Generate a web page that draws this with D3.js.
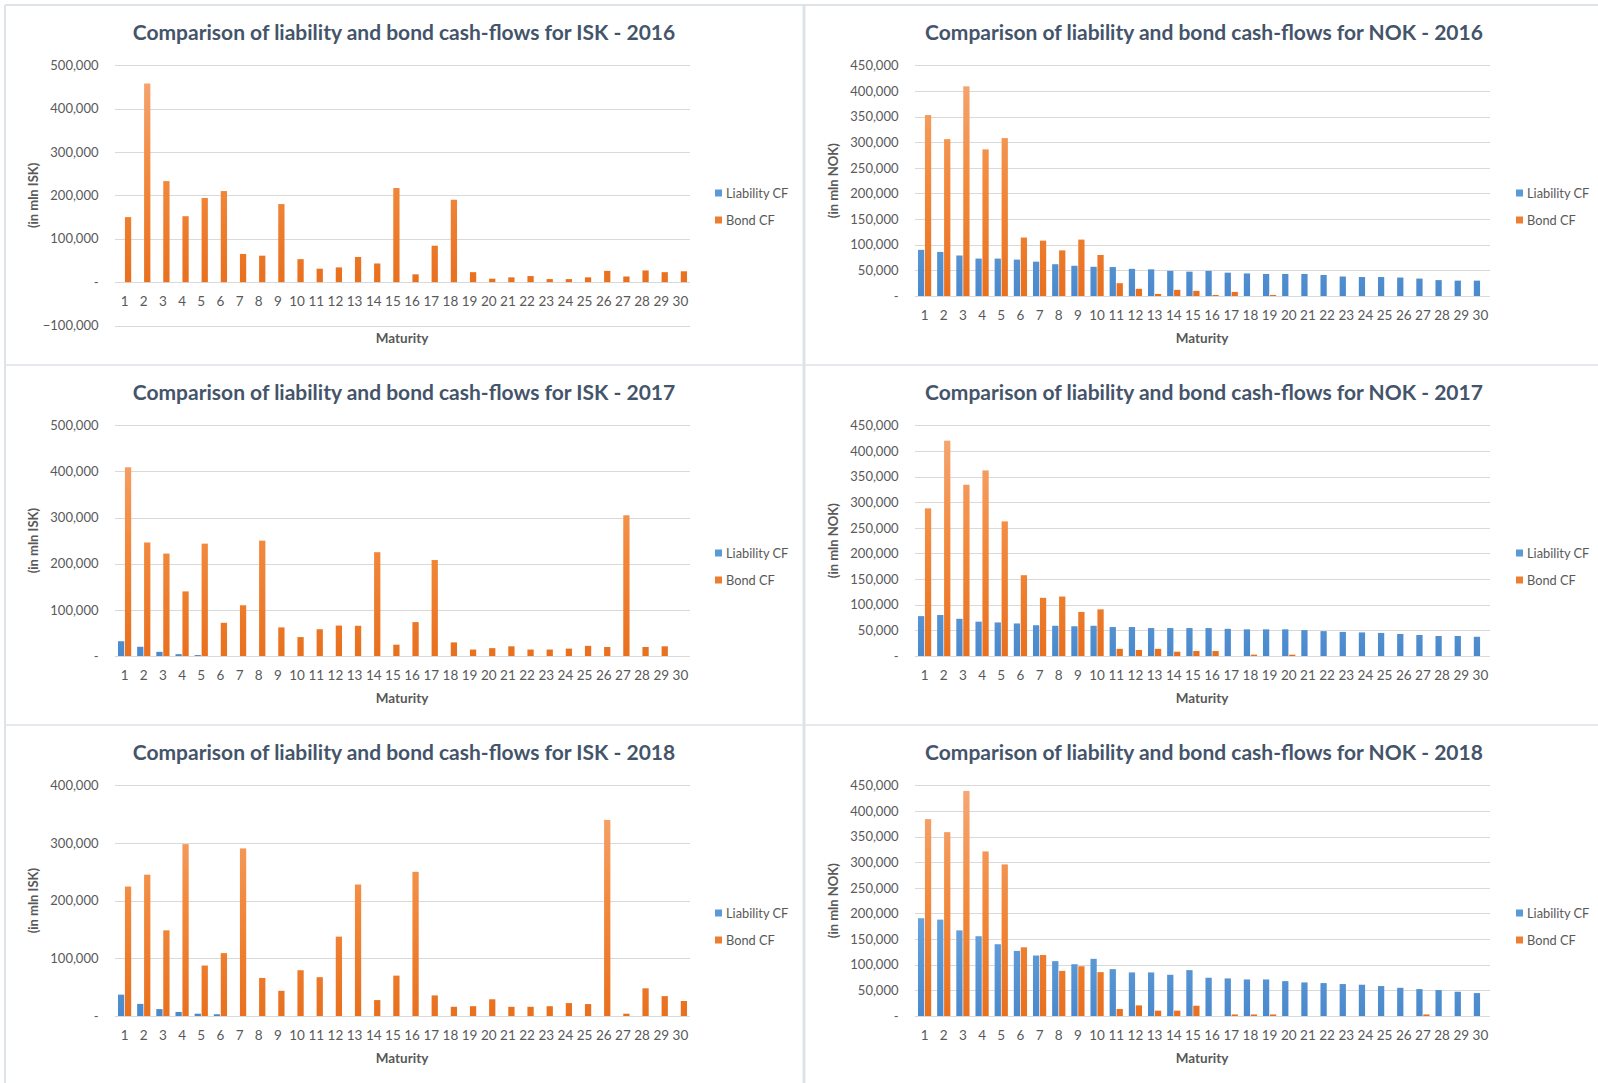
<!DOCTYPE html>
<html><head><meta charset="utf-8">
<script src="https://cdn.jsdelivr.net/npm/d3@7"></script>
<style>
body{margin:0;background:#fff;}
text{font-family:Lato,"Open Sans",sans-serif;}
</style>
</head><body>
<svg id="chart" width="1598" height="1083"></svg>
<script>
// ---------- data ----------
const maturities = [1,2,3,4,5,6,7,8,9,10,11,12,13,14,15,16,17,18,19,20,21,22,23,24,25,26,27,28,29,30];
const seriesNames = ["Liability CF", "Bond CF"];

const iskTicks2016 = [-100000, 0, 100000, 200000, 300000, 400000, 500000];
const iskTicks2017 = [0, 100000, 200000, 300000, 400000, 500000];
const iskTicks2018 = [0, 100000, 200000, 300000, 400000];
const nokTicks = [0, 50000, 100000, 150000, 200000, 250000, 300000, 350000, 400000, 450000];

const isk2016Liability = [0,0,0,0,0,0,0,0,0,0,0,0,0,0,0,0,0,0,0,0,0,0,0,0,0,0,0,0,0,0];
const isk2016Bond = [150000,458000,233000,152000,194000,210000,65000,61000,180000,53000,31000,34000,58000,43000,217000,18000,84000,190000,23000,8000,11000,14000,7000,7000,11000,26000,13000,27000,23000,25000];

const nok2016Liability = [90000,86000,79000,73000,73000,71000,67000,62000,59000,57000,56500,53000,52000,49000,47500,49000,45500,44000,43000,43000,43000,41000,38000,37000,37000,36000,34000,31000,30000,30000];
const nok2016Bond = [353000,306000,409000,286000,308000,114000,108000,89000,110000,80000,25000,14000,4000,12000,10000,2000,8000,0,2000,0,0,0,0,0,0,0,0,0,0,0];

const isk2017Liability = [32000,20000,9000,4000,2000,0,0,0,0,0,0,0,0,0,0,0,0,0,0,0,0,0,0,0,0,0,0,0,0,0];
const isk2017Bond = [409000,246000,222000,140000,243500,72000,110000,250000,62000,41000,58000,66000,65500,225000,24500,73500,208000,29500,14000,17000,21000,14000,14000,16000,22000,19500,305000,19500,21000,0];

const nok2017Liability = [77800,80000,72600,67000,65500,63500,60000,59000,58000,59000,56500,56500,54500,54500,54500,54500,53000,52000,52000,52000,50500,48500,47000,46000,45000,43000,41000,39000,39000,37500];
const nok2017Bond = [288000,420000,334000,362000,262600,157600,113500,116000,86000,91000,14000,11700,14000,8400,9700,9700,0,2600,0,2600,0,0,0,0,0,0,0,0,0,0];

const isk2018Liability = [37000,21000,12000,7000,4000,3000,0,0,0,0,0,0,0,0,0,0,0,0,0,0,0,0,0,0,0,0,0,0,0,0];
const isk2018Bond = [224500,245000,148500,298000,87500,109000,290600,66000,43700,79400,67300,137600,228000,27600,70000,250000,35700,16000,17000,29000,16000,16000,17000,22400,20700,340000,4000,48000,34500,26000];

const nok2018Liability = [190700,188000,167000,155600,140000,127000,118000,107000,101000,111500,91400,85000,85000,80400,89500,74600,73300,71300,71300,68000,65500,64200,62300,61000,58400,55000,52500,50600,47300,44700];
const nok2018Bond = [384000,358600,439000,321000,295700,134000,119000,88000,97000,85600,13600,20700,10400,10400,20000,0,3000,3000,3000,0,0,0,0,0,0,0,3000,0,0,0];

// ---------- panels ----------
const panels = [
  {title:"Comparison of liability and bond cash-flows for ISK - 2016", unit:"(in mln ISK)", liab:isk2016Liability, bond:isk2016Bond, ticks:iskTicks2016, col:0, row:0},
  {title:"Comparison of liability and bond cash-flows for NOK - 2016", unit:"(in mln NOK)", liab:nok2016Liability, bond:nok2016Bond, ticks:nokTicks, col:1, row:0},
  {title:"Comparison of liability and bond cash-flows for ISK - 2017", unit:"(in mln ISK)", liab:isk2017Liability, bond:isk2017Bond, ticks:iskTicks2017, col:0, row:1},
  {title:"Comparison of liability and bond cash-flows for NOK - 2017", unit:"(in mln NOK)", liab:nok2017Liability, bond:nok2017Bond, ticks:nokTicks, col:1, row:1},
  {title:"Comparison of liability and bond cash-flows for ISK - 2018", unit:"(in mln ISK)", liab:isk2018Liability, bond:isk2018Bond, ticks:iskTicks2018, col:0, row:2},
  {title:"Comparison of liability and bond cash-flows for NOK - 2018", unit:"(in mln NOK)", liab:nok2018Liability, bond:nok2018Bond, ticks:nokTicks, col:1, row:2}
];

const svg = d3.select("#chart");
const colOff = [0, 800];
const rowOff = [0, 360, 720];
const titleColor = "#44546A";
const textColor = "#595959";
const gridColor = "#D9D9D9";
const fmt = v => v === 0 ? "-" : d3.format(",")(v);

// panel borders
const borderColor = "#DEE3EA";
svg.append("line").attr("x1",5).attr("x2",5).attr("y1",5).attr("y2",1083).attr("stroke",borderColor).attr("stroke-width",2);
svg.append("line").attr("x1",5).attr("x2",1598).attr("y1",5).attr("y2",5).attr("stroke",borderColor).attr("stroke-width",2);
svg.append("line").attr("x1",804).attr("x2",804).attr("y1",5).attr("y2",1083).attr("stroke",borderColor).attr("stroke-width",3);
[365, 725].forEach(y => svg.append("line").attr("x1",5).attr("x2",1598).attr("y1",y).attr("y2",y).attr("stroke",borderColor).attr("stroke-width",1.5));

const defs = svg.append("defs");

panels.forEach((p, i) => {
  const ox = colOff[p.col], oy = rowOff[p.row];
  const left = 115 + ox, right = 690 + ox;
  const top = 65.3 + oy;
  const bottom = (p.ticks[0] < 0 ? 325.5 : 296) + oy;
  const g = svg.append("g");

  const x = d3.scaleBand().domain(maturities).range([left, right]).paddingInner(0.31).paddingOuter(0.155);
  const x1 = d3.scaleBand().domain(seriesNames).range([0, x.bandwidth()]).paddingInner(0.1);
  const y = d3.scaleLinear().domain([p.ticks[0], p.ticks[p.ticks.length-1]]).range([bottom, top]);

  // gradients (relative to plot area)
  const gradO = defs.append("linearGradient").attr("id","go"+i).attr("gradientUnits","userSpaceOnUse")
    .attr("x1",0).attr("x2",0).attr("y1",top).attr("y2",y(0));
  gradO.append("stop").attr("offset","0%").attr("stop-color","#F5A877");
  gradO.append("stop").attr("offset","50%").attr("stop-color","#F28A3E");
  gradO.append("stop").attr("offset","100%").attr("stop-color","#E8701E");
  const gradB = defs.append("linearGradient").attr("id","gb"+i).attr("gradientUnits","userSpaceOnUse")
    .attr("x1",0).attr("x2",0).attr("y1",top).attr("y2",y(0));
  gradB.append("stop").attr("offset","0%").attr("stop-color","#8DBCE8");
  gradB.append("stop").attr("offset","50%").attr("stop-color","#6DA7DF");
  gradB.append("stop").attr("offset","100%").attr("stop-color","#4A89CC");
  const fills = {"Liability CF":"url(#gb"+i+")", "Bond CF":"url(#go"+i+")"};

  // title
  g.append("text").attr("x", 404 + ox).attr("y", 31.5 + oy).attr("text-anchor","middle").attr("dominant-baseline","central")
    .attr("font-size", 21).attr("font-weight", 700).attr("fill", titleColor).text(p.title);

  // gridlines
  g.append("g").selectAll("line").data(p.ticks).join("line")
    .attr("x1", left).attr("x2", right).attr("y1", d => Math.round(y(d))+0.5).attr("y2", d => Math.round(y(d))+0.5)
    .attr("stroke", gridColor).attr("stroke-width", 1);

  // y axis
  const ya = g.append("g").attr("transform", `translate(${left},0)`)
    .call(d3.axisLeft(y).tickValues(p.ticks).tickFormat(fmt).tickSize(0).tickPadding(left - ox - 98.5));
  ya.select(".domain").remove();
  ya.selectAll("text").attr("font-size", 13).attr("fill", textColor).style("font-family","Lato");

  // bars
  const rows = maturities.map((m, k) => ({m, vals:[{s:"Liability CF", v:p.liab[k]}, {s:"Bond CF", v:p.bond[k]}]}));
  g.append("g").selectAll("g").data(rows).join("g")
    .attr("transform", d => `translate(${x(d.m)},0)`)
    .selectAll("rect").data(d => d.vals.filter(e => e.v > 0)).join("rect")
    .attr("x", d => x1(d.s)).attr("width", x1.bandwidth())
    .attr("y", d => y(d.v)).attr("height", d => y(0) - y(d.v))
    .attr("fill", d => fills[d.s]);

  // x axis
  const xa = g.append("g").attr("transform", `translate(0,${y(0)})`)
    .call(d3.axisBottom(x).tickSize(0).tickPadding(14.5));
  xa.select(".domain").remove();
  xa.selectAll("text").attr("font-size", 13.5).attr("fill", textColor).style("font-family","Lato");

  // axis titles
  g.append("text").attr("x", 402 + ox).attr("y", 337.5 + oy).attr("text-anchor","middle").attr("dominant-baseline","central")
    .attr("font-size", 13.5).attr("font-weight", 700).attr("fill", textColor).text("Maturity");
  g.append("text").attr("transform", `translate(${33 + ox},${(top + bottom)/2}) rotate(-90)`)
    .attr("text-anchor","middle").attr("dominant-baseline","central")
    .attr("font-size", 13).attr("font-weight", 700).attr("fill", textColor).text(p.unit);

  // legend
  const lx = (p.col === 0 ? 715 : 716) + ox;
  const legend = g.append("g").selectAll("g").data(seriesNames).join("g")
    .attr("transform", (d, k) => `translate(${lx},${193 + oy + k*27})`);
  legend.append("rect").attr("x",0).attr("y",-3.5).attr("width",7).attr("height",7)
    .attr("fill", d => d === "Liability CF" ? "#5B9BD5" : "#ED7D31");
  legend.append("text").attr("x", 11).attr("y", 0).attr("dominant-baseline","central")
    .attr("font-size", 12.8).attr("fill", textColor).text(d => d);
});
</script>
</body></html>
